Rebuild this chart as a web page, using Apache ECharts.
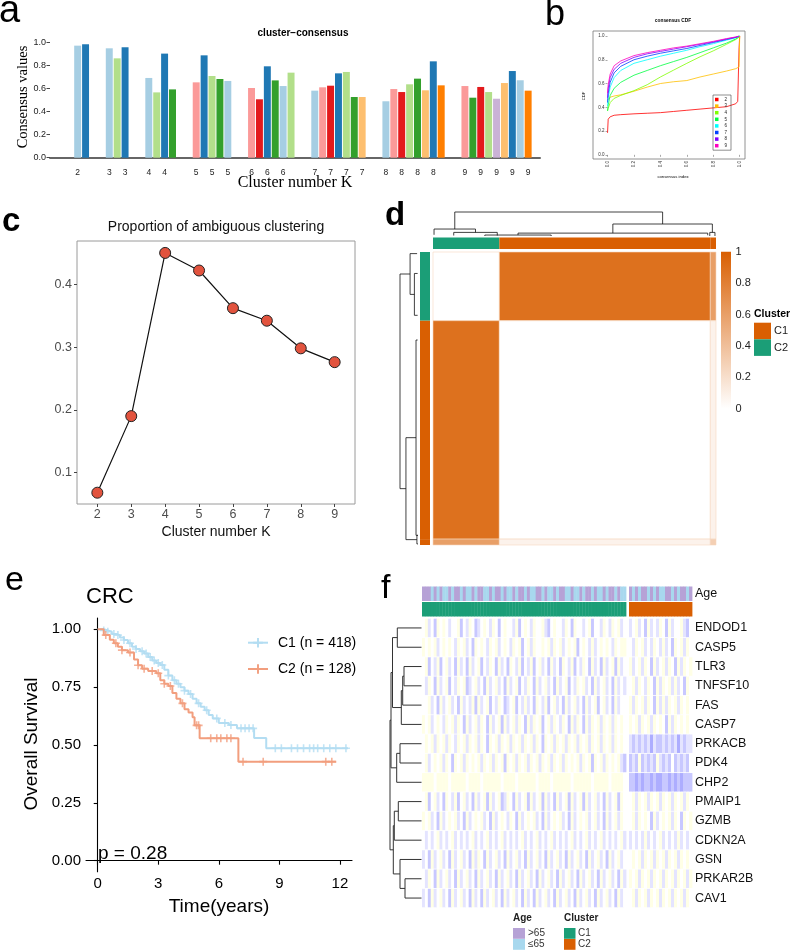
<!DOCTYPE html>
<html><head><meta charset="utf-8">
<script src="https://cdn.jsdelivr.net/npm/echarts@6/dist/echarts.min.js"></script>
<style>html,body{margin:0;padding:0;background:#fff}#c{width:791px;height:951px}</style>
</head><body><div id="c"></div><script>
// ================= DATA =================
// Panel a : cluster-consensus
const consensusK = [2, 3, 4, 5, 6, 7, 8, 9];
const consensusValues = [
  [0.971, 0.983],
  [0.948, 0.861, 0.957],
  [0.691, 0.566, 0.902, 0.592],
  [0.653, 0.887, 0.708, 0.682, 0.665],
  [0.604, 0.506, 0.792, 0.670, 0.621, 0.737],
  [0.581, 0.610, 0.624, 0.731, 0.743, 0.526, 0.526],
  [0.489, 0.595, 0.569, 0.636, 0.685, 0.584, 0.835, 0.627],
  [0.621, 0.520, 0.613, 0.569, 0.511, 0.647, 0.751, 0.671, 0.581]
];
// cluster colour index (into the "Paired" palette) of each bar
const consensusClusterColor = [
  [0, 1], [0, 2, 1], [0, 2, 1, 3], [4, 1, 2, 3, 0], [4, 5, 1, 3, 0, 2],
  [0, 4, 5, 1, 2, 3, 6], [0, 4, 5, 2, 3, 6, 1, 7], [4, 3, 5, 2, 8, 6, 1, 0, 7]
];
const consensusYTicks = [0, 0.2, 0.4, 0.6, 0.8, 1.0];

// Panel b : consensus CDF
const cdfK = ['2', '3', '4', '5', '6', '7', '8', '9'];
const cdfX = [0, 0.005, 0.02, 0.05, 0.1, 0.2, 0.3, 0.4, 0.5, 0.6, 0.7, 0.8, 0.9, 0.97, 0.985, 0.995, 1.0];
const cdfK2 = [0.185, 0.30, 0.32, 0.333, 0.338, 0.345, 0.35, 0.355, 0.365, 0.375, 0.385, 0.395, 0.405, 0.43, 0.45, 0.90, 1.0];
const cdfK3 = [0.46, 0.47, 0.485, 0.495, 0.505, 0.535, 0.57, 0.60, 0.615, 0.625, 0.655, 0.68, 0.705, 0.725, 0.733, 0.74, 1.0];
const cdfK4 = [0.37, 0.39, 0.44, 0.475, 0.50, 0.54, 0.59, 0.655, 0.713, 0.77, 0.825, 0.875, 0.93, 0.97, 0.98, 0.99, 1.0];
const cdfK5 = [0.37, 0.42, 0.50, 0.56, 0.61, 0.67, 0.71, 0.75, 0.785, 0.82, 0.86, 0.90, 0.94, 0.975, 0.985, 0.995, 1.0];
const cdfK6 = [0.41, 0.48, 0.57, 0.65, 0.71, 0.77, 0.80, 0.83, 0.855, 0.88, 0.91, 0.935, 0.965, 0.985, 0.99, 0.997, 1.0];
const cdfK7 = [0.44, 0.52, 0.61, 0.69, 0.745, 0.80, 0.83, 0.855, 0.875, 0.895, 0.92, 0.945, 0.97, 0.988, 0.993, 0.998, 1.0];
const cdfK8 = [0.48, 0.56, 0.65, 0.72, 0.77, 0.82, 0.85, 0.87, 0.89, 0.91, 0.93, 0.95, 0.975, 0.99, 0.995, 0.998, 1.0];
const cdfK9 = [0.52, 0.59, 0.68, 0.75, 0.79, 0.835, 0.86, 0.88, 0.90, 0.915, 0.935, 0.955, 0.978, 0.992, 0.996, 0.999, 1.0];
const cdfTicks = [0, 0.2, 0.4, 0.6, 0.8, 1.0];

// Panel c : proportion of ambiguous clustering
const pacK = [2, 3, 4, 5, 6, 7, 8, 9];
const pacValues = [0.068, 0.190, 0.450, 0.422, 0.362, 0.342, 0.298, 0.276];
const pacYTicks = [0.1, 0.2, 0.3, 0.4];

// Panel d : consensus matrix (samples ordered by dendrogram)
const dGroupSizes = [128, 407, 11];
const dGroupCluster = ['C2', 'C1', 'C1'];
const dBlockValues = [
  [0.00, 0.89, 0.60],
  [0.89, 0.00, 0.08],
  [0.60, 0.08, 0.30]
];
const dColorbarTicks = [0, 0.2, 0.4, 0.6, 0.8, 1];
// dendrogram connectors: [leftPos, rightPos, leftHeight, rightHeight, mergeHeight]
const dTopDendro = [
  [42, 443, 0.29, 0.50, 1.00],
  [2, 82, 0.05, 0.15, 0.29],
  [40, 124, 0.02, 0.02, 0.15],
  [347, 539, 0.12, 0.15, 0.50],
  [164, 530, 0.04, 0.03, 0.12],
  [100, 228, 0.00, 0.00, 0.04],
  [534, 544, 0.00, 0.00, 0.15]
];
const dLeftDendro = [
  [41, 441, 0.44, 0.67, 1.00],
  [3, 79, 0.05, 0.20, 0.44],
  [40, 118, 0.02, 0.02, 0.20],
  [346, 536, 0.11, 0.06, 0.67],
  [164, 528, 0.02, 0.02, 0.11],
  [528, 544, 0.00, 0.00, 0.06]
];

// Panel e : Kaplan-Meier
const kmC1Times = [0, 0.3, 0.5, 0.7, 0.9, 1.1, 1.3, 1.5, 1.7, 1.9, 2.1, 2.3, 2.5, 2.7, 2.9, 3.1, 3.3, 3.5, 3.7, 3.9, 4.1, 4.3, 4.5, 4.7, 4.9, 5.1, 5.3, 5.5, 5.7, 6.0, 6.5, 6.9, 7.75, 8.35];
const kmC1Surv = [1, 0.995, 0.99, 0.98, 0.975, 0.965, 0.954, 0.94, 0.925, 0.915, 0.905, 0.896, 0.88, 0.865, 0.855, 0.846, 0.825, 0.80, 0.78, 0.765, 0.75, 0.735, 0.72, 0.70, 0.68, 0.665, 0.65, 0.63, 0.615, 0.595, 0.586, 0.572, 0.53, 0.486];
const kmC1End = 12.4;
const kmC2Times = [0, 0.3, 0.6, 0.8, 1.0, 1.2, 1.5, 1.8, 2.0, 2.2, 2.5, 2.9, 3.1, 3.3, 3.5, 3.7, 3.9, 4.1, 4.3, 4.5, 4.7, 4.8, 5.05, 6.97];
const kmC2Surv = [1, 0.975, 0.955, 0.94, 0.925, 0.91, 0.90, 0.87, 0.845, 0.83, 0.82, 0.81, 0.78, 0.765, 0.755, 0.725, 0.70, 0.68, 0.655, 0.64, 0.62, 0.585, 0.529, 0.428];
const kmC2End = 11.82;
const kmC1Censor = [0.3, 0.5, 0.8, 1.0, 1.3, 1.6, 1.9, 2.2, 2.4, 2.6, 2.8, 3.0, 3.2, 3.5, 3.8, 4.0, 4.3, 4.6, 5.0, 5.4, 5.9, 6.3, 6.6, 7.1, 7.3, 7.5, 7.7, 8.8, 9.1, 9.6, 9.9, 10.2, 10.5, 10.7, 10.9, 11.2, 11.5, 11.8, 12.3];
const kmC2Censor = [0.4, 0.9, 1.2, 1.6, 2.0, 2.3, 2.7, 3.0, 3.3, 3.6, 4.2, 4.9, 5.0, 5.6, 5.9, 6.1, 6.4, 6.6, 7.2, 8.2, 11.3, 11.6];
const kmNames = ['C1 (n = 418)', 'C2 (n = 128)'];
const kmXTicks = [0, 3, 6, 9, 12];
const kmYTicks = [0, 0.25, 0.5, 0.75, 1.0];
const kmPValue = 'p = 0.28';

// Panel f : expression heatmap (binned samples, level 0=yellow .. 2=white .. 5=blue)
const fGenes = ['ENDOD1', 'CASP5', 'TLR3', 'TNFSF10', 'FAS', 'CASP7', 'PRKACB', 'PDK4', 'CHP2', 'PMAIP1', 'GZMB', 'CDKN2A', 'GSN', 'PRKAR2B', 'CAV1'];
const fBinsC1 = 70, fBinsC2 = 21;
const fAgeC1 = '1110101001 0110100101 1001011010 0101101001 1010010110 0100101101 0010110100';
const fAgeC2 = '1010110101 0011010110 1';
const fExprC1 = [
  '2132412123 2214231243 2123124212 2314212312 2134212231 2412232142 2312312132',
  '1212132121 2312132412 1231213212 3121421312 2121312132 1214212313 2121231211',
  '2142314213 2413241321 4231241324 1231423142 1324132412 3142312413 2413214132',
  '2312413214 2312143213 2413213241 3214231241 3213241321 4231213241 3213241323',
  '2213241321 3241323141 3214231243 2142313241 2314213241 3213241321 4213241322',
  '1213212312 1312413213 1241321413 2131241312 1421312312 4131241312 1312131212',
  '2121312131 2312131213 1241213121 3121312131 2412131213 1213121312 1312131212',
  '2132121312 4121312121 3121312141 2131213121 3121312131 2121312141 2131212134',
  '1111211112 1111121111 2111111211 1121111112 1111211111 1211111121 1111211112',
  '2142132412 3142132413 2141321431 2413214132 1413241321 4132141321 3241321412',
  '1213241321 2132413212 1324132123 1241321213 2413212132 4132121321 3241321312',
  '2323213232 1323232132 3213232132 3232132321 3232132323 2132321323 2132323213',
  '3241321324 1321324131 2413213241 3213241321 3241321324 1321324132 1324132132',
  '2312413213 2413213241 3213241321 3241321324 1321324132 1324132132 4132132413',
  '3241321324 1321324132 4132132413 2132413241 3213241321 3241321324 1321324132'
];
const fExprC2 = [
  '3213241323 1241322134 2',
  '2312132312 3132412131 2',
  '1321312413 2131241312 1',
  '2131231241 3121313241 2',
  '1312131241 3131213121 2',
  '1213121312 1241312121 2',
  '3434343534 4343435343 3',
  '4341434341 3434243434 2',
  '4454544545 5445454544 4',
  '2131213121 3121312131 2',
  '2131212413 2121312412 1',
  '3232313232 1323231323 2',
  '2121312131 2131213121 2',
  '1213121312 1312131213 1',
  '2131213121 3121312131 2'
];
// gene dendrogram merges: [childA, childB, height]; '#n' = result of merge n
const fMerges = [
  ['TLR3', 'TNFSF10', 17.5], ['#1', 'FAS', 18.8], ['#2', 'CASP7', 20.2], ['ENDOD1', 'CASP5', 24.2],
  ['#4', '#3', 29.0], ['PRKACB', 'PDK4', 21.5], ['#6', 'CHP2', 24.8], ['#5', '#7', 30.5],
  ['PMAIP1', 'GZMB', 23.2], ['#9', 'CDKN2A', 27.2], ['PRKAR2B', 'CAV1', 16.5], ['GSN', '#11', 21.5],
  ['#10', '#12', 28.2], ['#8', '#13', 31.5]
];

// ================= STYLE =================
const paired = ['#A6CEE3', '#1F78B4', '#B2DF8A', '#33A02C', '#FB9A99', '#E31A1C', '#FDBF6F', '#FF7F00', '#CAB2D6'];
const rainbow8 = ['#FF0000', '#FFBF00', '#80FF00', '#00FF40', '#00FFFF', '#0040FF', '#8000FF', '#FF00BF'];
const clusterColD = { C1: '#D95F02', C2: '#1B9E77' };
const clusterColF = { C1: '#1B9E77', C2: '#D95F02' };
const ageCol = ['#A8D8EE', '#B6A2D6']; // <=65, >65
const kmCol = ['#B3DDF2', '#F29E7E'];
const SANS = 'Liberation Sans, Arial, sans-serif';
const SERIF = 'Liberation Serif, Times New Roman, serif';
const plusPath = 'path://M4,0h2v4h4v2h-4v4h-2v-4h-4v-2h4z';

const grids = [], xAxes = [], yAxes = [], series = [], graphics = [], legends = [];
function addGrid(g, x, y) {
  grids.push(Object.assign({ containLabel: false, show: false }, g));
  const i = grids.length - 1;
  xAxes.push(Object.assign({ gridIndex: i, splitLine: { show: false } }, x));
  yAxes.push(Object.assign({ gridIndex: i, splitLine: { show: false } }, y));
  return i;
}
const hid = (o) => Object.assign({ type: 'value', show: false }, o);
function txt(text, x, y, o) {
  o = o || {};
  graphics.push({ type: 'text', x: x, y: y, rotation: o.rot || 0, silent: true, z: 10,
    style: { text: text, fontSize: o.size || 12, fontFamily: o.family || SANS, fontWeight: o.weight || 'normal',
      fill: o.color || '#000', align: o.align || 'left', verticalAlign: 'middle' } });
}
function rectG(x, y, w, h, color) {
  graphics.push({ type: 'rect', silent: true, shape: { x: x, y: y, width: w, height: h }, style: { fill: color } });
}
function mix(c1, c2, t) {
  const a = [1, 3, 5].map(i => parseInt(c1.substr(i, 2), 16)), b = [1, 3, 5].map(i => parseInt(c2.substr(i, 2), 16));
  return 'rgb(' + a.map((v, i) => Math.round(v + (b[i] - v) * t)).join(',') + ')';
}
function dendroRender(orient, color, lw) {
  return function (params, api) {
    const P = orient === 'top' ? (p, h) => api.coord([p, h]) : (p, h) => api.coord([h, p]);
    const xl = api.value(0), xr = api.value(1), hl = api.value(2), hr = api.value(3), h = api.value(4);
    return { type: 'polyline', shape: { points: [P(xl, hl), P(xl, h), P(xr, h), P(xr, hr)] },
      style: { stroke: color, fill: 'none', lineWidth: lw } };
  };
}

// ================= PANEL A =================
(function () {
  const labels = [], items = [];
  const pushEmpty = () => { labels.push(''); items.push('-'); };
  for (let i = 0; i < 3; i++) pushEmpty();
  consensusK.forEach((k, gi) => {
    if (gi > 0) { pushEmpty(); pushEmpty(); }
    consensusValues[gi].forEach((v, j) => {
      labels.push(j % 2 === 0 ? String(k) : '');
      items.push({ value: v, itemStyle: { color: paired[consensusClusterColor[gi][j]] } });
    });
  });
  pushEmpty();
  const gi = addGrid({ left: 50, top: 42.3, width: 490, height: 115.4 },
    { type: 'category', data: labels, axisLine: { lineStyle: { color: '#666', width: 2 } }, axisTick: { show: false },
      axisLabel: { interval: 0, fontSize: 8.5, color: '#222', margin: 10, fontFamily: SANS } },
    { type: 'value', min: 0, max: 1, axisLine: { show: false },
      axisTick: { show: true, length: 3.5, lineStyle: { color: '#444' }, customValues: consensusYTicks },
      axisLabel: { fontSize: 9, color: '#222', margin: 4, fontFamily: SANS, customValues: consensusYTicks, formatter: v => v.toFixed(1) } });
  series.push({ type: 'bar', xAxisIndex: gi, yAxisIndex: gi, data: items, barCategoryGap: '12%', silent: true });
  txt('a', -1, 11.7, { size: 38 });
  txt('cluster\u2212consensus', 303, 33, { size: 10, weight: 'bold', align: 'center' });
  txt('Consensus values', 23, 97, { size: 14.5, family: SERIF, rot: Math.PI / 2, align: 'center' });
  txt('Cluster number K', 295, 182.5, { size: 16, family: SERIF, align: 'center' });
})();

// ================= PANEL B =================
(function () {
  const gi = addGrid({ left: 593, top: 31, width: 152, height: 128, show: true, borderColor: '#777', borderWidth: 0.8 },
    { type: 'value', min: -0.11, max: 1.04, axisLine: { show: false },
      axisTick: { length: 2, lineStyle: { color: '#555', width: 0.5 }, customValues: cdfTicks },
      axisLabel: { fontSize: 4.5, color: '#333', margin: 2, rotate: 90, customValues: cdfTicks, formatter: v => v.toFixed(1) } },
    { type: 'value', min: -0.035, max: 1.042, offset: -13.5, axisLine: { show: false },
      axisTick: { length: 2, lineStyle: { color: '#555', width: 0.5 }, customValues: cdfTicks },
      axisLabel: { fontSize: 4.5, color: '#333', margin: 2, customValues: cdfTicks, formatter: v => v.toFixed(1) } });
  const curves = [cdfK2, cdfK3, cdfK4, cdfK5, cdfK6, cdfK7, cdfK8, cdfK9];
  curves.forEach((c, i) => {
    series.push({ name: cdfK[i], type: 'line', xAxisIndex: gi, yAxisIndex: gi, showSymbol: false, symbol: 'none',
      data: cdfX.map((x, j) => [x, c[j]]), color: rainbow8[i], lineStyle: { width: 0.8, color: rainbow8[i] }, silent: true });
  });
  legends.push({ data: cdfK, orient: 'vertical', left: 713, top: 95, icon: 'rect', itemWidth: 3.5, itemHeight: 3.5, itemGap: 1.6,
    textStyle: { fontSize: 4.5, color: '#222', padding: [0, 0, 0, 1] }, borderColor: '#444', borderWidth: 0.6, padding: [2, 4, 2, 2],
    selectedMode: false });
  txt('b', 545, 14.7, { size: 36 });
  txt('consensus CDF', 673, 21, { size: 4.8, weight: 'bold', align: 'center' });
  txt('CDF', 584, 96, { size: 4.2, rot: Math.PI / 2, align: 'center' });
  txt('consensus index', 673, 177, { size: 4.2, align: 'center' });
})();

// ================= PANEL C =================
(function () {
  const gi = addGrid({ left: 77, top: 241, width: 278, height: 263, show: true, borderColor: '#9a9a9a', borderWidth: 1 },
    { type: 'value', min: 1.4, max: 9.6, axisLine: { show: false },
      axisTick: { length: 3, lineStyle: { color: '#444' }, customValues: pacK },
      axisLabel: { fontSize: 12.5, color: '#4d4d4d', margin: 4, customValues: pacK } },
    { type: 'value', min: 0.05, max: 0.469, axisLine: { show: false },
      axisTick: { length: 3, lineStyle: { color: '#444' }, customValues: pacYTicks },
      axisLabel: { fontSize: 12.5, color: '#4d4d4d', margin: 5, customValues: pacYTicks, formatter: v => v.toFixed(1) } });
  series.push({ type: 'line', xAxisIndex: gi, yAxisIndex: gi, data: pacK.map((k, i) => [k, pacValues[i]]),
    symbol: 'circle', symbolSize: 11, lineStyle: { color: '#111', width: 1.2 },
    itemStyle: { color: '#E2533E', borderColor: '#222', borderWidth: 1 }, silent: true });
  txt('c', 2, 222, { size: 33, weight: 'bold' });
  txt('Proportion of ambiguous clustering', 216, 227, { size: 14, align: 'center', color: '#111' });
  txt('Cluster number K', 216, 532, { size: 14, align: 'center', color: '#111' });
})();

// ================= PANEL D =================
(function () {
  const N = dGroupSizes.reduce((a, b) => a + b, 0);
  const cum = [0];
  dGroupSizes.forEach(n => cum.push(cum[cum.length - 1] + n));
  const orange = '#D95F02';
  // matrix
  const gm = addGrid({ left: 433, top: 252, width: 283, height: 293 }, hid({ min: 0, max: N }), hid({ min: 0, max: N, inverse: true }));
  const blocks = [];
  dBlockValues.forEach((row, i) => row.forEach((v, j) => blocks.push([cum[j], cum[j + 1], cum[i], cum[i + 1], v])));
  series.push({ type: 'custom', xAxisIndex: gm, yAxisIndex: gm, data: blocks, silent: true,
    renderItem: function (p, api) {
      const a = api.coord([api.value(0), api.value(2)]), b = api.coord([api.value(1), api.value(3)]);
      return { type: 'rect', shape: { x: a[0], y: a[1], width: b[0] - a[0], height: b[1] - a[1] },
        style: { fill: mix('#FFFFFF', orange, api.value(4)), stroke: mix('#FFFFFF', orange, 0.25), lineWidth: 0.6 } };
    } });
  // annotations
  const annRender = (horizontal) => function (p, api) {
    const s = api.value(0), e = api.value(1);
    const c = clusterColD[dGroupCluster[api.value(2)]];
    const a = horizontal ? api.coord([s, 0]) : api.coord([0, s]);
    const b = horizontal ? api.coord([e, 1]) : api.coord([1, e]);
    return { type: 'rect', shape: { x: Math.min(a[0], b[0]), y: Math.min(a[1], b[1]), width: Math.abs(b[0] - a[0]), height: Math.abs(b[1] - a[1]) }, style: { fill: c } };
  };
  const annData = dGroupSizes.map((n, i) => [cum[i], cum[i + 1], i]);
  const gt = addGrid({ left: 433, top: 237.5, width: 283, height: 11.5 }, hid({ min: 0, max: N }), hid({ min: 0, max: 1 }));
  series.push({ type: 'custom', xAxisIndex: gt, yAxisIndex: gt, data: annData, renderItem: annRender(true), silent: true });
  const gl = addGrid({ left: 420, top: 252, width: 10, height: 293 }, hid({ min: 0, max: 1 }), hid({ min: 0, max: N, inverse: true }));
  series.push({ type: 'custom', xAxisIndex: gl, yAxisIndex: gl, data: annData, renderItem: annRender(false), silent: true });
  // dendrograms
  const gdt = addGrid({ left: 433, top: 212, width: 283, height: 24 }, hid({ min: 0, max: N }), hid({ min: 0, max: 1 }));
  series.push({ type: 'custom', xAxisIndex: gdt, yAxisIndex: gdt, data: dTopDendro, renderItem: dendroRender('top', '#111', 0.8), silent: true });
  const gdl = addGrid({ left: 400, top: 252, width: 18, height: 293 }, hid({ min: 0, max: 1, inverse: true }), hid({ min: 0, max: N, inverse: true }));
  series.push({ type: 'custom', xAxisIndex: gdl, yAxisIndex: gdl, data: dLeftDendro, renderItem: dendroRender('left', '#111', 0.8), silent: true });
  // colour bar
  const gc = addGrid({ left: 721, top: 251.7, width: 10, height: 157 },
    { type: 'category', data: ['v'], show: false },
    { type: 'value', min: 0, max: 1, position: 'right', axisLine: { show: false }, axisTick: { show: false },
      axisLabel: { fontSize: 11, color: '#222', margin: 4.5, customValues: dColorbarTicks } });
  series.push({ type: 'bar', xAxisIndex: gc, yAxisIndex: gc, data: [1], barWidth: '100%', silent: true,
    itemStyle: { color: new echarts.graphic.LinearGradient(0, 0, 0, 1, [{ offset: 0, color: orange }, { offset: 1, color: '#FFFFFF' }]) } });
  txt('d', 385, 215.5, { size: 33, weight: 'bold' });
  txt('Cluster', 754, 314.3, { size: 10.5, weight: 'bold' });
  rectG(754, 322.7, 17, 16.6, clusterColD.C1);
  rectG(754, 339.3, 17, 16.6, clusterColD.C2);
  txt('C1', 774, 331, { size: 11, color: '#222' });
  txt('C2', 774, 347.6, { size: 11, color: '#222' });
})();

// ================= PANEL E =================
(function () {
  const gi = addGrid({ left: 86, top: 618, width: 266, height: 253.7 },
    { type: 'value', min: -0.58, max: 12.6, axisLine: { lineStyle: { color: '#000', width: 1.1 } },
      axisTick: { length: 4, lineStyle: { color: '#000', width: 1.1 }, customValues: kmXTicks },
      axisLabel: { fontSize: 15, color: '#000', margin: 5, customValues: kmXTicks } },
    { type: 'value', min: -0.0476, max: 1.049, axisLine: { lineStyle: { color: '#000', width: 1.1 } },
      axisTick: { length: 4, lineStyle: { color: '#000', width: 1.1 }, customValues: kmYTicks },
      axisLabel: { fontSize: 15, color: '#000', margin: 5, customValues: kmYTicks, formatter: v => v.toFixed(2) } });
  const survAt = (T, S, t) => { let s = S[0]; T.forEach((x, i) => { if (x <= t) s = S[i]; }); return s; };
  const groups = [[kmC1Times, kmC1Surv, kmC1End, kmC1Censor], [kmC2Times, kmC2Surv, kmC2End, kmC2Censor]];
  groups.forEach((g, k) => {
    const pts = g[0].map((t, i) => [t, g[1][i]]);
    pts.push([g[2], g[1][g[1].length - 1]]);
    series.push({ name: kmNames[k], type: 'line', step: 'end', xAxisIndex: gi, yAxisIndex: gi, data: pts,
      symbol: plusPath, showSymbol: false, color: kmCol[k], lineStyle: { color: kmCol[k], width: 2 }, itemStyle: { color: kmCol[k] }, silent: true });
    series.push({ type: 'scatter', xAxisIndex: gi, yAxisIndex: gi, data: g[3].map(t => [t, survAt(g[0], g[1], t)]),
      symbol: plusPath, symbolSize: 8, itemStyle: { color: kmCol[k] }, silent: true });
  });
  legends.push({ data: kmNames, orient: 'vertical', left: 247, top: 635.7, itemWidth: 20, itemHeight: 12, itemGap: 12.3, padding: 0,
    textStyle: { fontSize: 14, color: '#000', padding: [0, 0, 0, 5] }, selectedMode: false });
  txt('e', 5, 581, { size: 34 });
  txt('CRC', 86, 597.3, { size: 22 });
  txt(kmPValue, 98, 854, { size: 19 });
  txt('Overall Survival', 31.7, 744, { size: 19, rot: Math.PI / 2, align: 'center' });
  txt('Time(years)', 219, 906.5, { size: 19, align: 'center' });
})();

// ================= PANEL F =================
(function () {
  const clean = (s, n) => { s = s.replace(/ /g, ''); while (s.length < n) s += '2'; return s.slice(0, n); };
  const exprColor = (d) => d <= 2 ? mix('#FFFFCC', '#FFFFFF', d / 2) : mix('#FFFFFF', '#ADADFF', (d - 2) / 3);
  const heatRender = (colorFn, gap) => function (p, api) {
    const c = api.coord([api.value(0), api.value(1)]), s = api.size([1, 1]);
    return { type: 'rect', shape: { x: c[0] - s[0] / 2, y: c[1] - s[1] / 2 + gap / 2, width: s[0] + 0.4, height: s[1] - gap },
      style: { fill: colorFn(api.value(2)) } };
  };
  const annColor = (v) => [ageCol[0], ageCol[1], clusterColF.C1, clusterColF.C2][v];
  const parts = [
    { left: 422, width: 204, bins: fBinsC1, age: fAgeC1, expr: fExprC1, cl: 2, labels: false },
    { left: 629, width: 63, bins: fBinsC2, age: fAgeC2, expr: fExprC2, cl: 3, labels: true }
  ];
  parts.forEach(pt => {
    const ga = addGrid({ left: pt.left, top: 586, width: pt.width, height: 31 },
      hid({ min: -0.5, max: pt.bins - 0.5 }),
      { type: 'category', data: ['Age', 'Cluster'], inverse: true, position: 'right', show: pt.labels,
        axisLine: { show: false }, axisTick: { show: false }, axisLabel: { fontSize: 12.5, color: '#111', margin: 3 } });
    const age = clean(pt.age, pt.bins);
    const ad = [];
    for (let i = 0; i < pt.bins; i++) { ad.push([i, 0, +age[i]]); ad.push([i, 1, pt.cl]); }
    series.push({ type: 'custom', xAxisIndex: ga, yAxisIndex: ga, data: ad, renderItem: heatRender(annColor, 1), silent: true });
    const gg = addGrid({ left: pt.left, top: 618.3, width: pt.width, height: 289.4 },
      hid({ min: -0.5, max: pt.bins - 0.5 }),
      { type: 'category', data: fGenes, inverse: true, position: 'right', show: pt.labels,
        axisLine: { show: false }, axisTick: { show: false }, axisLabel: { fontSize: 12.5, color: '#111', margin: 3 } });
    const hd = [];
    pt.expr.forEach((row, g) => { const r = clean(row, pt.bins); for (let i = 0; i < pt.bins; i++) hd.push([i, g, +r[i]]); });
    series.push({ type: 'custom', xAxisIndex: gg, yAxisIndex: gg, data: hd, renderItem: heatRender(exprColor, 0.8), silent: true });
  });
  // gene dendrogram
  const nodes = {};
  fGenes.forEach((g, i) => nodes[g] = { pos: i, h: 0 });
  const conns = [];
  fMerges.forEach((m, i) => {
    const a = nodes[m[0]], b = nodes[m[1]];
    conns.push([a.pos, b.pos, a.h, b.h, m[2]]);
    nodes['#' + (i + 1)] = { pos: (a.pos + b.pos) / 2, h: m[2] };
  });
  const gd = addGrid({ left: 388, top: 618.3, width: 33.5, height: 289.4 },
    hid({ min: 0, max: 33.5, inverse: true }), hid({ min: -0.5, max: fGenes.length - 0.5, inverse: true }));
  series.push({ type: 'custom', xAxisIndex: gd, yAxisIndex: gd, data: conns, renderItem: dendroRender('left', '#333', 1), silent: true });
  txt('f', 381, 589, { size: 34 });
  txt('Age', 513, 918.5, { size: 10, weight: 'bold', color: '#222' });
  txt('Cluster', 564, 918.5, { size: 10, weight: 'bold', color: '#222' });
  rectG(513, 928, 12, 10.8, ageCol[1]);
  rectG(513, 939, 12, 10.8, ageCol[0]);
  rectG(564, 928, 11.5, 10.8, clusterColF.C1);
  rectG(564, 939, 11.5, 10.8, clusterColF.C2);
  txt('>65', 528, 933.5, { size: 10, color: '#333' });
  txt('\u226465', 528, 944.5, { size: 10, color: '#333' });
  txt('C1', 578, 933.5, { size: 10, color: '#333' });
  txt('C2', 578, 944.5, { size: 10, color: '#333' });
})();

// ================= RENDER =================
const chart = echarts.init(document.getElementById('c'), null, { renderer: 'canvas' });
chart.setOption({
  animation: false,
  backgroundColor: '#fff',
  textStyle: { fontFamily: SANS },
  grid: grids, xAxis: xAxes, yAxis: yAxes, series: series, legend: legends, graphic: graphics
});
</script></body></html>
